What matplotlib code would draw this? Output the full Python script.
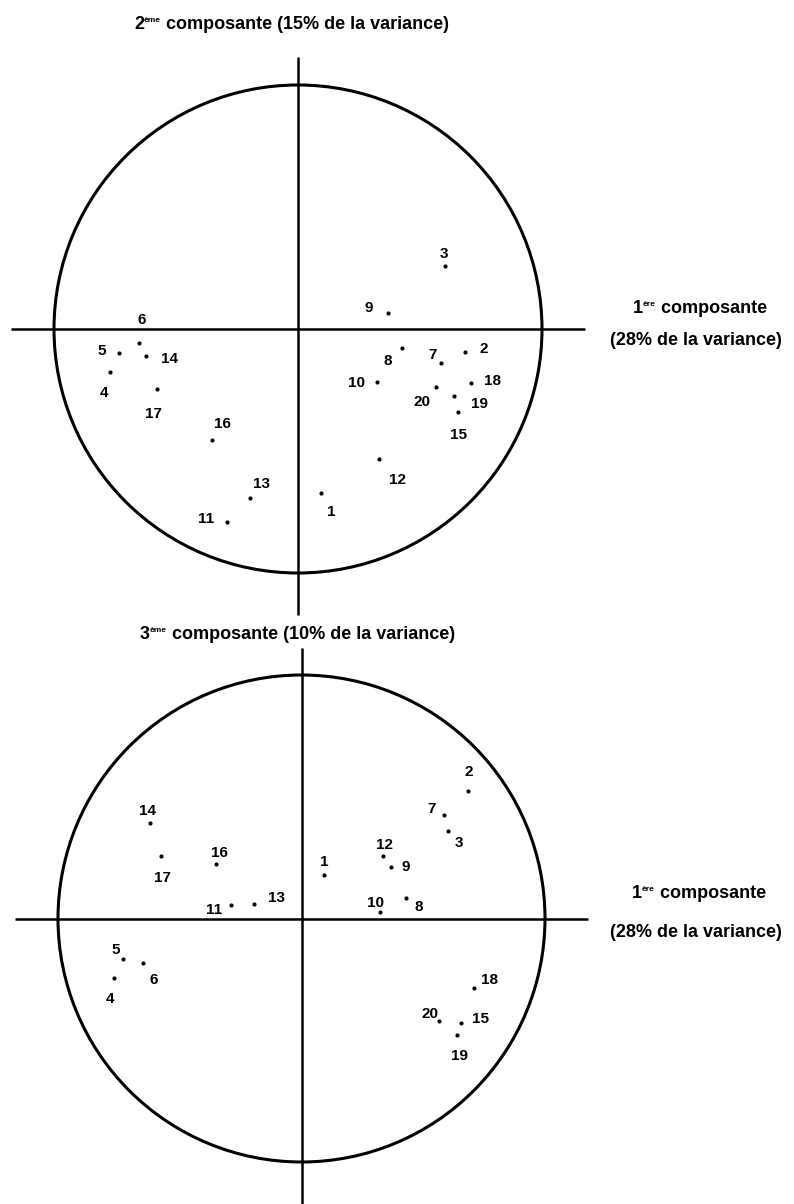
import matplotlib
matplotlib.use("Agg")
import matplotlib.pyplot as plt
from matplotlib.patches import Circle

plt.rcParams['font.family'] = ['Liberation Sans', 'DejaVu Sans']

# ---- data -------------------------------------------------------------
labels = [str(i) for i in range(1, 21)]
comp1 = [0.093, 0.685, 0.603, -0.772, -0.735, -0.651, 0.585, 0.428, 0.368, 0.322,
         -0.290, 0.333, -0.195, -0.621, 0.657, -0.351, -0.579, 0.710, 0.640, 0.564]
comp2 = [-0.671, -0.094, 0.258, -0.175, -0.097, -0.057, -0.138, -0.079, 0.064, -0.216,
         -0.791, -0.533, -0.691, -0.109, -0.339, -0.455, -0.247, -0.220, -0.273, -0.239]
comp3 = [0.177, 0.525, 0.361, -0.244, -0.166, -0.182, 0.425, 0.085, 0.210, 0.025,
         0.055, 0.258, 0.061, 0.393, -0.430, 0.223, 0.257, -0.285, -0.477, -0.420]

title_top = ("2", "ème", " composante (15% de la variance)")
title_bot = ("3", "ème", " composante (10% de la variance)")
xlab_line1 = ("1", "ère", " composante")
xlab_line2 = "(28% de la variance)"

# ---- label layout (offsets in pixels) --------------------------------
off_top = [(11, -18), (19, 4), (-1, 14), (-6, -20), (-17, 3), (3, 24), (-8, 9),
           (-15, -11), (-19, 7), (-20, 0), (-21, 5), (18, -19), (11, 15), (23, -2),
           (0, -22), (10, 18), (-3, -23), (21, 3), (25, -7), (-14, -13)]
off_bot = [(0, 15), (0, 20), (11, -11), (-4, -20), (-7, 10), (11, -16), (-12, 8),
           (13, -8), (15, 2), (-4, 11), (-17, -3), (2, 12), (22, 7), (-3, 13),
           (19, 6), (3, 13), (2, -21), (15, 9), (2, -20), (-9, 8)]

W, H = 794, 1204
fig = plt.figure(figsize=(W / 100, H / 100), dpi=100)
fig.patch.set_facecolor('white')


def make_axes(cx, cy, r, ytop, ybot):
    ax = fig.add_axes([0, 1 - ybot / H, 1, (ybot - ytop) / H])
    ax.set_xlim(-cx / r, (W - cx) / r)
    ax.set_ylim((cy - ybot) / r, (cy - ytop) / r)
    ax.axis('off')
    return ax


def draw_plane(ax, xs, ys, offs, vtop, vbot):
    ax.add_patch(Circle((0, 0), 1.0, fill=False, lw=2.2, color='black', clip_on=False))
    ax.plot([-1.175, 1.175], [0, 0], color='black', lw=1.8, solid_capstyle='butt')
    ax.plot([0, 0], [vbot, vtop], color='black', lw=1.8, solid_capstyle='butt')
    ax.plot(xs, ys, 'o', color='black', ms=3.0, mew=0)
    for lab, x, y, (dx, dy) in zip(labels, xs, ys, offs):
        ax.annotate(lab, (x, y), xytext=(dx, dy), textcoords='offset pixels',
                    ha='center', va='center_baseline', fontsize=11,
                    fontweight='bold')


def fig_xy(px, py):
    return px / W, 1 - py / H


def sup_text(px, py, parts, size=13, supsize=6):
    base, sup, rest = parts
    x0, y0 = fig_xy(px, py)
    t1 = fig.text(x0, y0, base, fontsize=size, fontweight='bold', va='baseline', ha='left')
    _, ys = fig_xy(0, py - 7)
    t2 = fig.add_artist(plt.Annotation(sup, xy=(1, ys), xycoords=(t1, 'figure fraction'),
                                       fontsize=supsize, fontweight='bold',
                                       va='baseline', ha='left'))
    fig.add_artist(plt.Annotation(rest, xy=(1, y0), xycoords=(t2, 'figure fraction'),
                                  fontsize=size, fontweight='bold',
                                  va='baseline', ha='left'))


# top plane: component 1 vs component 2
ax1 = make_axes(298, 329, 244, 0, 620)
draw_plane(ax1, comp1, comp2, off_top, vtop=(329 - 57) / 244, vbot=(329 - 615) / 244)

# bottom plane: component 1 vs component 3
ax2 = make_axes(301.5, 918.5, 243.5, 620, 1204)
draw_plane(ax2, comp1, comp3, off_bot, vtop=(918.5 - 648) / 243.5, vbot=-1.3)

# titles
sup_text(134, 29, title_top)
sup_text(140, 639, title_bot)

# right-hand axis labels
sup_text(633, 313, xlab_line1)
x, y = fig_xy(610, 345)
fig.text(x, y, xlab_line2, fontsize=13, fontweight='bold', va='baseline', ha='left')
sup_text(632, 898, xlab_line1)
x, y = fig_xy(610, 937)
fig.text(x, y, xlab_line2, fontsize=13, fontweight='bold', va='baseline', ha='left')

fig.savefig('out.png', dpi=100, facecolor='white')
